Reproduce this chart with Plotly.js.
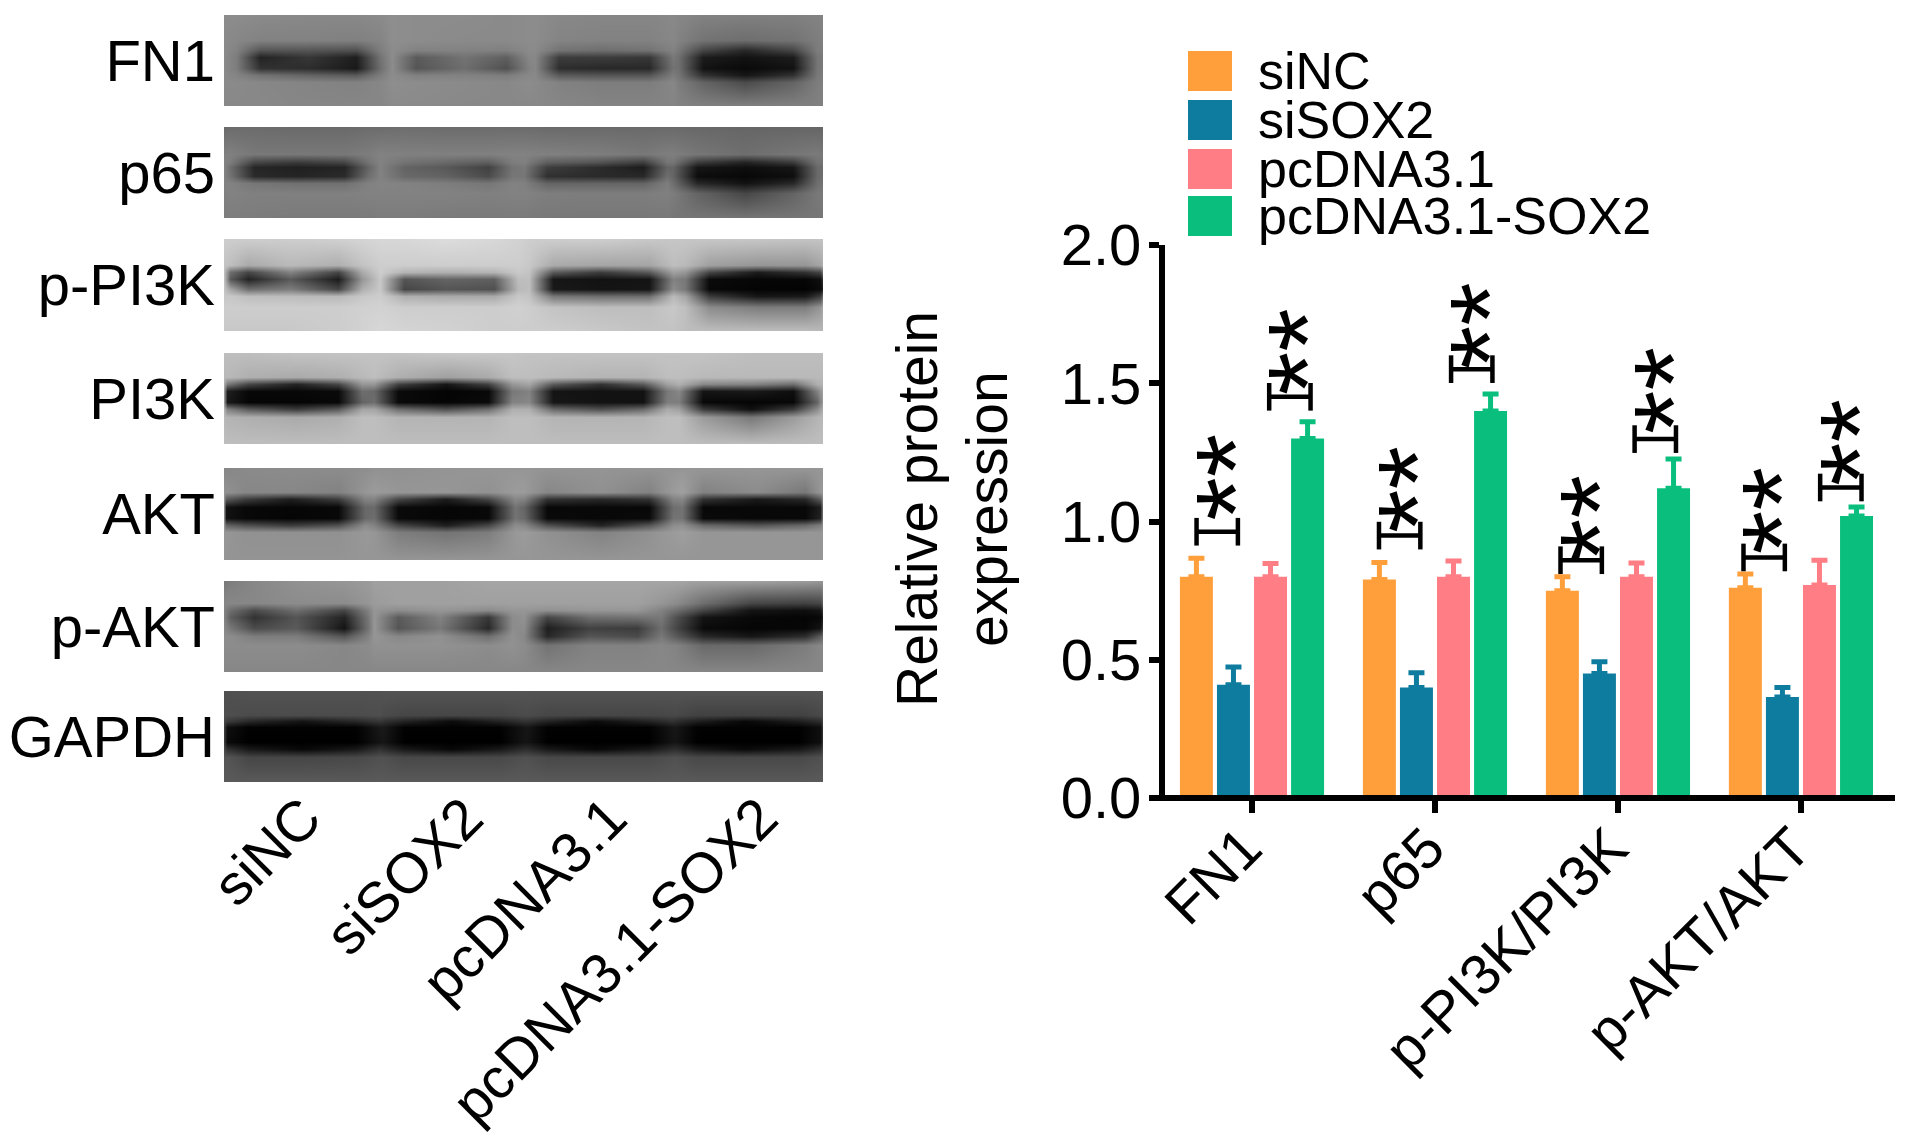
<!DOCTYPE html>
<html>
<head>
<meta charset="utf-8">
<script src="https://cdn.plot.ly/plotly-3.0.1.min.js"></script>
<style>html,body{margin:0;padding:0;background:#fff}#chart{width:1913px;height:1144px}</style>
</head>
<body>
<div id="chart"></div>
<script>
// ---- bar chart data ----
const categories = ['FN1', 'p65', 'p-PI3K/PI3K', 'p-AKT/AKT'];
const groupNames = ['siNC', 'siSOX2', 'pcDNA3.1', 'pcDNA3.1-SOX2'];
const siNC = [0.80, 0.79, 0.75, 0.76];
const siSOX2 = [0.41, 0.40, 0.45, 0.365];
const pcDNA = [0.80, 0.80, 0.80, 0.77];
const pcDNASOX2 = [1.30, 1.40, 1.12, 1.02];
const siNCErr = [0.067, 0.062, 0.05, 0.05];
const siSOX2Err = [0.064, 0.053, 0.043, 0.035];
const pcDNAErr = [0.048, 0.057, 0.05, 0.09];
const pcDNASOX2Err = [0.061, 0.061, 0.106, 0.032];
const yTicks = [0, 0.5, 1, 1.5, 2];
// significance marks: bar-group offset, bracket height, star height
const sigGroup = [0, 0, 1, 1, 2, 2, 3, 3];
const sigOffset = [-0.190, 0.207, -0.193, 0.201, -0.201, 0.204, -0.201, 0.218];
const sigBracketY = [0.963, 1.451, 0.949, 1.551, 0.860, 1.298, 0.870, 1.123];
const sigStarY = [1.159, 1.615, 1.116, 1.709, 1.009, 1.473, 1.038, 1.287];

// ---- western blot panels: grey levels ----
const blotLabels = ['FN1', 'p65', 'p-PI3K', 'PI3K', 'AKT', 'p-AKT', 'GAPDH'];
const blotLanes = ['siNC', 'siSOX2', 'pcDNA3.1', 'pcDNA3.1-SOX2'];
const fn1Xs = [0,2,6,14,22,26, 28,32,40,47,51, 52,56,63,71,75, 76,80,87,95,99, 100];
const fn1Ys = [0,28,38,46,58,66,74,100];
const fn1Grey = [
 [140, 140,138,136,136,138, 142,140,140,138,140, 140,136,134,134,136, 134,130,128,128,130, 132],
 [138, 135,130,130,128,132, 142,140,138,138,140, 140,132,130,130,135, 130,115,110,115,125, 128],
 [138, 130,85,85,80,125, 140,130,130,128,138, 138,115,110,115,130, 120,70,40,70,125, 125],
 [138, 125,35,55,30,115, 140,90,115,95,135, 135,60,60,55,120, 110,28,18,28,118, 122],
 [138, 125,50,45,25,110, 140,85,110,80,130, 135,45,40,40,115, 110,18,10,18,118, 122],
 [138, 132,115,100,90,125, 140,128,130,125,136, 136,90,85,85,125, 115,50,22,50,120, 125],
 [138, 138,135,132,130,135, 142,140,138,136,140, 138,130,125,125,135, 125,100,75,100,125, 128],
 [136, 136,136,134,134,134, 138,138,136,136,136, 136,134,132,132,132, 130,128,128,128,128, 128]];
const p65Xs = [0,1,5,12,20,24, 26,30,37,44,48, 50,54,62,70,74, 75,79,87,95,99,100];
const p65Ys = [0,30,38,44,54,62,72,100];
const p65Grey = [
 [105, 108,108,106,106,108, 108,110,108,108,108, 108,106,106,106,106, 106,104,102,102,102, 102],
 [128, 128,120,120,120,125, 130,128,128,128,130, 130,128,126,120,126, 126,118,110,118,122, 120],
 [130, 125,70,58,70,115, 130,115,105,95,125, 128,95,85,62,118, 118,60,35,60,115, 115],
 [130, 110,38,32,36,100, 130,100,88,65,115, 120,62,45,28,100, 100,22,14,22,105, 110],
 [130, 115,42,36,42,110, 130,105,98,75,118, 118,48,42,40,110, 100,12,8,14,105, 110],
 [130, 130,118,112,112,128, 132,130,125,118,130, 128,100,100,100,125, 110,40,18,40,110, 115],
 [128, 130,128,128,128,130, 130,130,130,128,130, 130,126,125,125,128, 124,100,70,100,120, 122],
 [125, 125,124,122,122,122, 124,124,122,122,122, 122,120,120,120,120, 118,118,118,118,118, 118]];
const pPI3KXs = [0,1,4,11,19,23, 26,30,37,45,49, 51,55,63,71,75, 77,81,89,97,99.5,100];
const pPI3KYs = [0,28,36,44,54,62,74,100];
const pPI3KGrey = [
 [205, 205,205,205,208,212, 215,215,220,215,210, 205,205,205,200,198, 198,198,198,195,195, 195],
 [195, 190,170,185,175,195, 205,205,205,205,205, 200,170,165,165,190, 185,160,150,150,165, 175],
 [190, 110,70,130,70,170, 205,180,175,180,200, 195,90,60,90,160, 150,70,28,50,70, 120],
 [190, 90,35,90,28,150, 200,85,100,95,190, 190,22,18,20,130, 120,10,6,6,15, 60],
 [195, 165,110,125,70,175, 200,70,85,80,185, 190,25,20,22,140, 120,8,4,3,10, 30],
 [200, 200,190,188,185,200, 205,175,170,170,200, 195,120,110,110,185, 165,60,22,25,60, 110],
 [205, 205,205,205,205,208, 210,205,205,205,208, 205,195,190,190,200, 190,140,125,125,150, 170],
 [200, 200,200,200,205,210, 215,212,210,205,205, 205,205,200,195,195, 190,190,190,190,185, 180]];
const pi3kXs = [0,0.5,4,12,19,23, 25,29,37,44,48, 51,55,63,70,74, 76,80,88,95,99,100];
const pi3kYs = [0,26,34,42,54,62,70,100];
const pi3kGrey = [
 [190, 190,190,195,195,195, 195,195,200,200,198, 195,195,195,195,195, 195,195,190,190,190, 190],
 [185, 185,175,170,175,185, 190,175,160,170,190, 190,185,180,180,190, 190,185,185,185,185, 185],
 [170, 120,70,35,70,150, 150,65,22,65,150, 165,90,50,90,160, 175,135,130,110,175, 180],
 [150, 30,8,8,10,110, 105,10,4,8,120, 130,20,18,18,120, 135,20,25,14,130, 165],
 [150, 25,5,5,8,100, 110,10,5,10,130, 135,22,18,18,125, 125,8,5,8,100, 160],
 [175, 130,90,60,90,165, 165,110,80,110,175, 175,105,80,105,170, 160,60,15,60,140, 175],
 [185, 180,175,170,175,190, 190,180,180,180,190, 190,180,180,180,190, 190,155,120,155,180, 185],
 [190, 190,190,190,190,190, 190,190,190,190,190, 190,190,190,190,190, 190,190,190,190,190, 190]];
const aktXs = [0,0.3,3.5,11,19,23.5, 25,29,37,44,48.5, 50,54,63,71,75, 76.5,80,89,97,99.5,100];
const aktYs = [0,26,34,42,54,62,70,100];
const aktGrey = [
 [135, 135,138,140,140,142, 145,145,148,150,150, 150,148,148,148,148, 150,150,150,150,150, 150],
 [148, 145,135,135,130,150, 155,150,150,145,155, 155,135,145,130,155, 160,130,140,120,150, 155],
 [145, 90,60,30,60,130, 130,70,28,70,135, 130,50,40,50,130, 135,50,25,40,90, 140],
 [135, 18,8,6,8,105, 105,10,6,8,115, 100,8,8,8,110, 115,8,8,8,30, 135],
 [135, 18,8,5,8,105, 110,10,6,8,115, 105,10,8,10,115, 115,10,8,8,35, 135],
 [145, 100,80,60,80,140, 130,70,30,70,140, 135,80,35,85,140, 145,105,85,105,125, 145],
 [150, 150,145,145,145,152, 150,125,115,125,152, 155,145,130,145,155, 158,150,150,150,150, 150],
 [150, 148,148,148,148,150, 150,150,150,150,150, 150,150,150,150,150, 150,150,150,150,150, 150]];
const pAKTXs = [0,1,5,12,20,24, 25,29,36,44,48, 50,54,61,69,73, 75.5,80,88,97,99.5,100];
const pAKTYs = [0,24,32,40,52,60,70,100];
const pAKTGrey = [
 [120, 125,135,145,150,155, 160,160,160,165,165, 165,165,165,165,165, 165,160,160,155,150, 150],
 [135, 135,135,140,140,150, 155,160,160,160,160, 160,160,160,160,150, 140,110,70,65,70, 100],
 [130, 110,75,110,70,130, 150,140,150,140,150, 150,145,150,150,130, 110,70,20,15,22, 60],
 [130, 95,50,85,35,120, 150,90,130,55,140, 145,70,110,115,120, 80,20,8,5,8, 30],
 [135, 120,75,90,20,115, 150,85,120,40,140, 140,30,65,60,110, 70,10,5,6,20, 60],
 [140, 140,125,125,85,130, 150,135,145,110,145, 135,40,85,75,120, 90,40,22,45,90, 110],
 [140, 140,140,140,135,140, 145,145,145,140,145, 140,115,130,130,135, 130,105,105,125,135, 135],
 [135, 135,135,135,135,135, 135,135,135,135,135, 135,135,135,135,135, 135,135,135,135,135, 135]];
const gapdhXs = [0,0.5,4,13,22,26, 26.5,30,38,46,50, 50.5,54,62,71,75, 75.5,79,87,96,99.5,100];
const gapdhYs = [0,26,33,40,56,64,72,100];
const gapdhGrey = [
 [80, 80,82,82,82,82, 84,84,84,84,84, 84,84,84,84,84, 84,84,84,84,84, 84],
 [80, 78,75,75,75,78, 75,70,70,70,75, 75,70,70,70,72, 72,65,65,65,72, 78],
 [72, 60,40,20,40,55, 50,35,12,35,50, 50,35,12,35,50, 45,30,8,30,45, 70],
 [60, 15,2,2,2,25, 25,2,2,2,20, 22,2,2,2,22, 22,2,2,2,15, 60],
 [60, 10,0,0,0,20, 22,0,0,0,20, 20,0,0,0,20, 20,0,0,0,15, 60],
 [72, 50,25,8,25,50, 45,25,8,25,45, 45,25,8,25,45, 45,25,10,25,45, 72],
 [85, 85,70,70,72,80, 80,72,72,72,80, 80,72,72,72,80, 80,72,72,72,80, 85],
 [90, 90,90,90,90,90, 90,90,90,90,90, 90,90,90,90,90, 90,90,90,90,90, 90]];
const blotXs = [fn1Xs, p65Xs, pPI3KXs, pi3kXs, aktXs, pAKTXs, gapdhXs];
const blotYs = [fn1Ys, p65Ys, pPI3KYs, pi3kYs, aktYs, pAKTYs, gapdhYs];
const blotGrey = [fn1Grey, p65Grey, pPI3KGrey, pi3kGrey, aktGrey, pAKTGrey, gapdhGrey];
const laneCentres = [13.4, 40.4, 64.4, 89.6];

// ---- layout constants ----
const W = 1913, H = 1144;
const FONT = '"Liberation Sans", Arial, sans-serif';
const colors = ['#FF9F3C', '#0E7C9E', '#FF7D85', '#0ABF7D'];
const px = v => v / W;
const py = v => 1 - v / H;
const blotTop = [15, 127, 239, 353, 468, 581, 691];
const blotBottom = [106, 218, 331, 444, 560, 672, 782];
const xRange = [-0.4754, 3.514];
const labelShift = -0.04;

const series = [siNC, siSOX2, pcDNA, pcDNASOX2];
const errors = [siNCErr, siSOX2Err, pcDNAErr, pcDNASOX2Err];
const traces = [];
series.forEach((vals, i) => {
  traces.push({
    type: 'bar', name: groupNames[i], x: [0, 1, 2, 3], y: vals,
    marker: {color: colors[i]}, showlegend: false,
    error_y: {type: 'data', array: errors[i], arrayminus: vals.map(() => 0), symmetric: false,
              color: colors[i], thickness: 5, width: 8},
    xaxis: 'x', yaxis: 'y', hoverinfo: 'x+y'
  });
});
// significance brackets
const bx = [], by = [];
const halfW = 0.113, halfH = 0.05;
sigGroup.forEach((g, i) => {
  const c = g + sigOffset[i], y = sigBracketY[i];
  bx.push(c - halfW, c - halfW, null, c - halfW, c + halfW, null, c + halfW, c + halfW, null);
  by.push(y - halfH, y + halfH, null, y, y, null, y - halfH, y + halfH, null);
});
traces.push({type: 'scatter', mode: 'lines', x: bx, y: by, xaxis: 'x', yaxis: 'y',
  line: {color: '#000', width: 4.5}, showlegend: false, hoverinfo: 'skip', connectgaps: false});
// empty trace that keeps the overlaid label axis alive
traces.push({type: 'scatter', mode: 'none', x: [0], y: [0], xaxis: 'x9', yaxis: 'y',
  showlegend: false, hoverinfo: 'skip'});

const annotations = [];
sigGroup.forEach((g, i) => {
  annotations.push({xref: 'x', yref: 'y', x: g + sigOffset[i], y: sigStarY[i], text: '**',
    showarrow: false, textangle: -90, xshift: 18, yshift: 0,
    font: {family: FONT, size: 112, color: '#000'}});
});
// y-axis title (two lines set apart as in the figure)
annotations.push({xref: 'paper', yref: 'paper', x: px(917), y: py(509),
  text: 'Relative protein', showarrow: false, textangle: -90,
  font: {family: FONT, size: 57, color: '#000'}});
annotations.push({xref: 'paper', yref: 'paper', x: px(987), y: py(509),
  text: 'expression', showarrow: false, textangle: -90,
  font: {family: FONT, size: 57, color: '#000'}});

// legend: large swatches + labels
const shapes = [];
const legendTop = [51, 100, 149, 196];
const legendBottom = [91, 140, 189, 236];
groupNames.forEach((n, i) => {
  shapes.push({type: 'rect', xref: 'paper', yref: 'paper', x0: px(1188), x1: px(1232),
    y0: py(legendTop[i]), y1: py(legendBottom[i]), line: {width: 0}, fillcolor: colors[i]});
  annotations.push({xref: 'paper', yref: 'paper', x: px(1256), y: py((legendTop[i] + legendBottom[i]) / 2),
    xanchor: 'left', yanchor: 'middle', text: n, showarrow: false,
    font: {family: FONT, size: 52, color: '#000'}});
});
// x-axis baseline, centred on value 0 and drawn above the bars
shapes.push({type: 'line', xref: 'paper', yref: 'paper', x0: px(1159), x1: px(1895), y0: py(798), y1: py(798),
  line: {color: '#000', width: 6}, layer: 'above'});

const layout = {
  width: W, height: H, autosize: false,
  margin: {l: 0, r: 0, t: 0, b: 0, pad: 0},
  paper_bgcolor: '#fff', plot_bgcolor: 'rgba(0,0,0,0)',
  font: {family: FONT, color: '#000'},
  barmode: 'group', bargap: 0.19, bargroupgap: 0.11,
  showlegend: false, shapes, annotations,
  xaxis: {domain: [px(1165), px(1895)], range: xRange, anchor: 'y',
    tickmode: 'array', tickvals: [0, 1, 2, 3], ticktext: categories, showticklabels: false,
    ticks: 'outside', ticklen: 14, tickwidth: 6,
    tickcolor: '#000', showline: false, showgrid: false, zeroline: false},
  xaxis9: {domain: [px(1165), px(1895)], range: xRange, anchor: 'y', overlaying: 'x',
    tickmode: 'array', tickvals: [0, 1, 2, 3].map(v => v + labelShift), ticktext: categories, tickangle: -45,
    tickfont: {family: FONT, size: 57, color: '#000'}, ticks: '', ticklabelstandoff: 4,
    showline: false, showgrid: false, zeroline: false},
  yaxis: {domain: [py(798), py(245)], range: [0, 2], anchor: 'x',
    tickmode: 'array', tickvals: yTicks, ticktext: yTicks.map(v => v.toFixed(1)),
    tickfont: {family: FONT, size: 58, color: '#000'}, ticks: 'outside', ticklen: 10, tickwidth: 6,
    ticklabelstandoff: -4,
    tickcolor: '#000', showline: true, linewidth: 6, linecolor: '#000', showgrid: false, zeroline: false}
};

blotLabels.forEach((lab, i) => {
  const n = i + 2;
  traces.push({type: 'heatmap', x: blotXs[i], y: blotYs[i], z: blotGrey[i],
    xaxis: 'x' + n, yaxis: 'y' + n, zmin: 0, zmax: 255, zsmooth: 'best', showscale: false,
    colorscale: [[0, '#000'], [1, '#fff']], hoverinfo: 'skip', name: lab});
  const last = i === blotLabels.length - 1;
  layout['xaxis' + n] = {domain: [px(224), px(823)], range: [0, 100], anchor: 'y' + n,
    showgrid: false, zeroline: false, showline: false, ticks: '',
    showticklabels: last, tickmode: 'array', tickvals: last ? laneCentres : [], ticktext: last ? blotLanes : [],
    tickangle: -45, ticklabelstandoff: -10, tickfont: {family: FONT, size: 57, color: '#000'}};
  layout['yaxis' + n] = {domain: [py(blotBottom[i]), py(blotTop[i])], range: [100, 0], anchor: 'x' + n,
    showgrid: false, zeroline: false, showline: false, ticks: '',
    tickmode: 'array', tickvals: [50], ticktext: [lab], ticklabelstandoff: 8,
    tickfont: {family: FONT, size: 58, color: '#000'}};
});

Plotly.newPlot('chart', traces, layout, {displayModeBar: false, staticPlot: true});
</script>
</body>
</html>
